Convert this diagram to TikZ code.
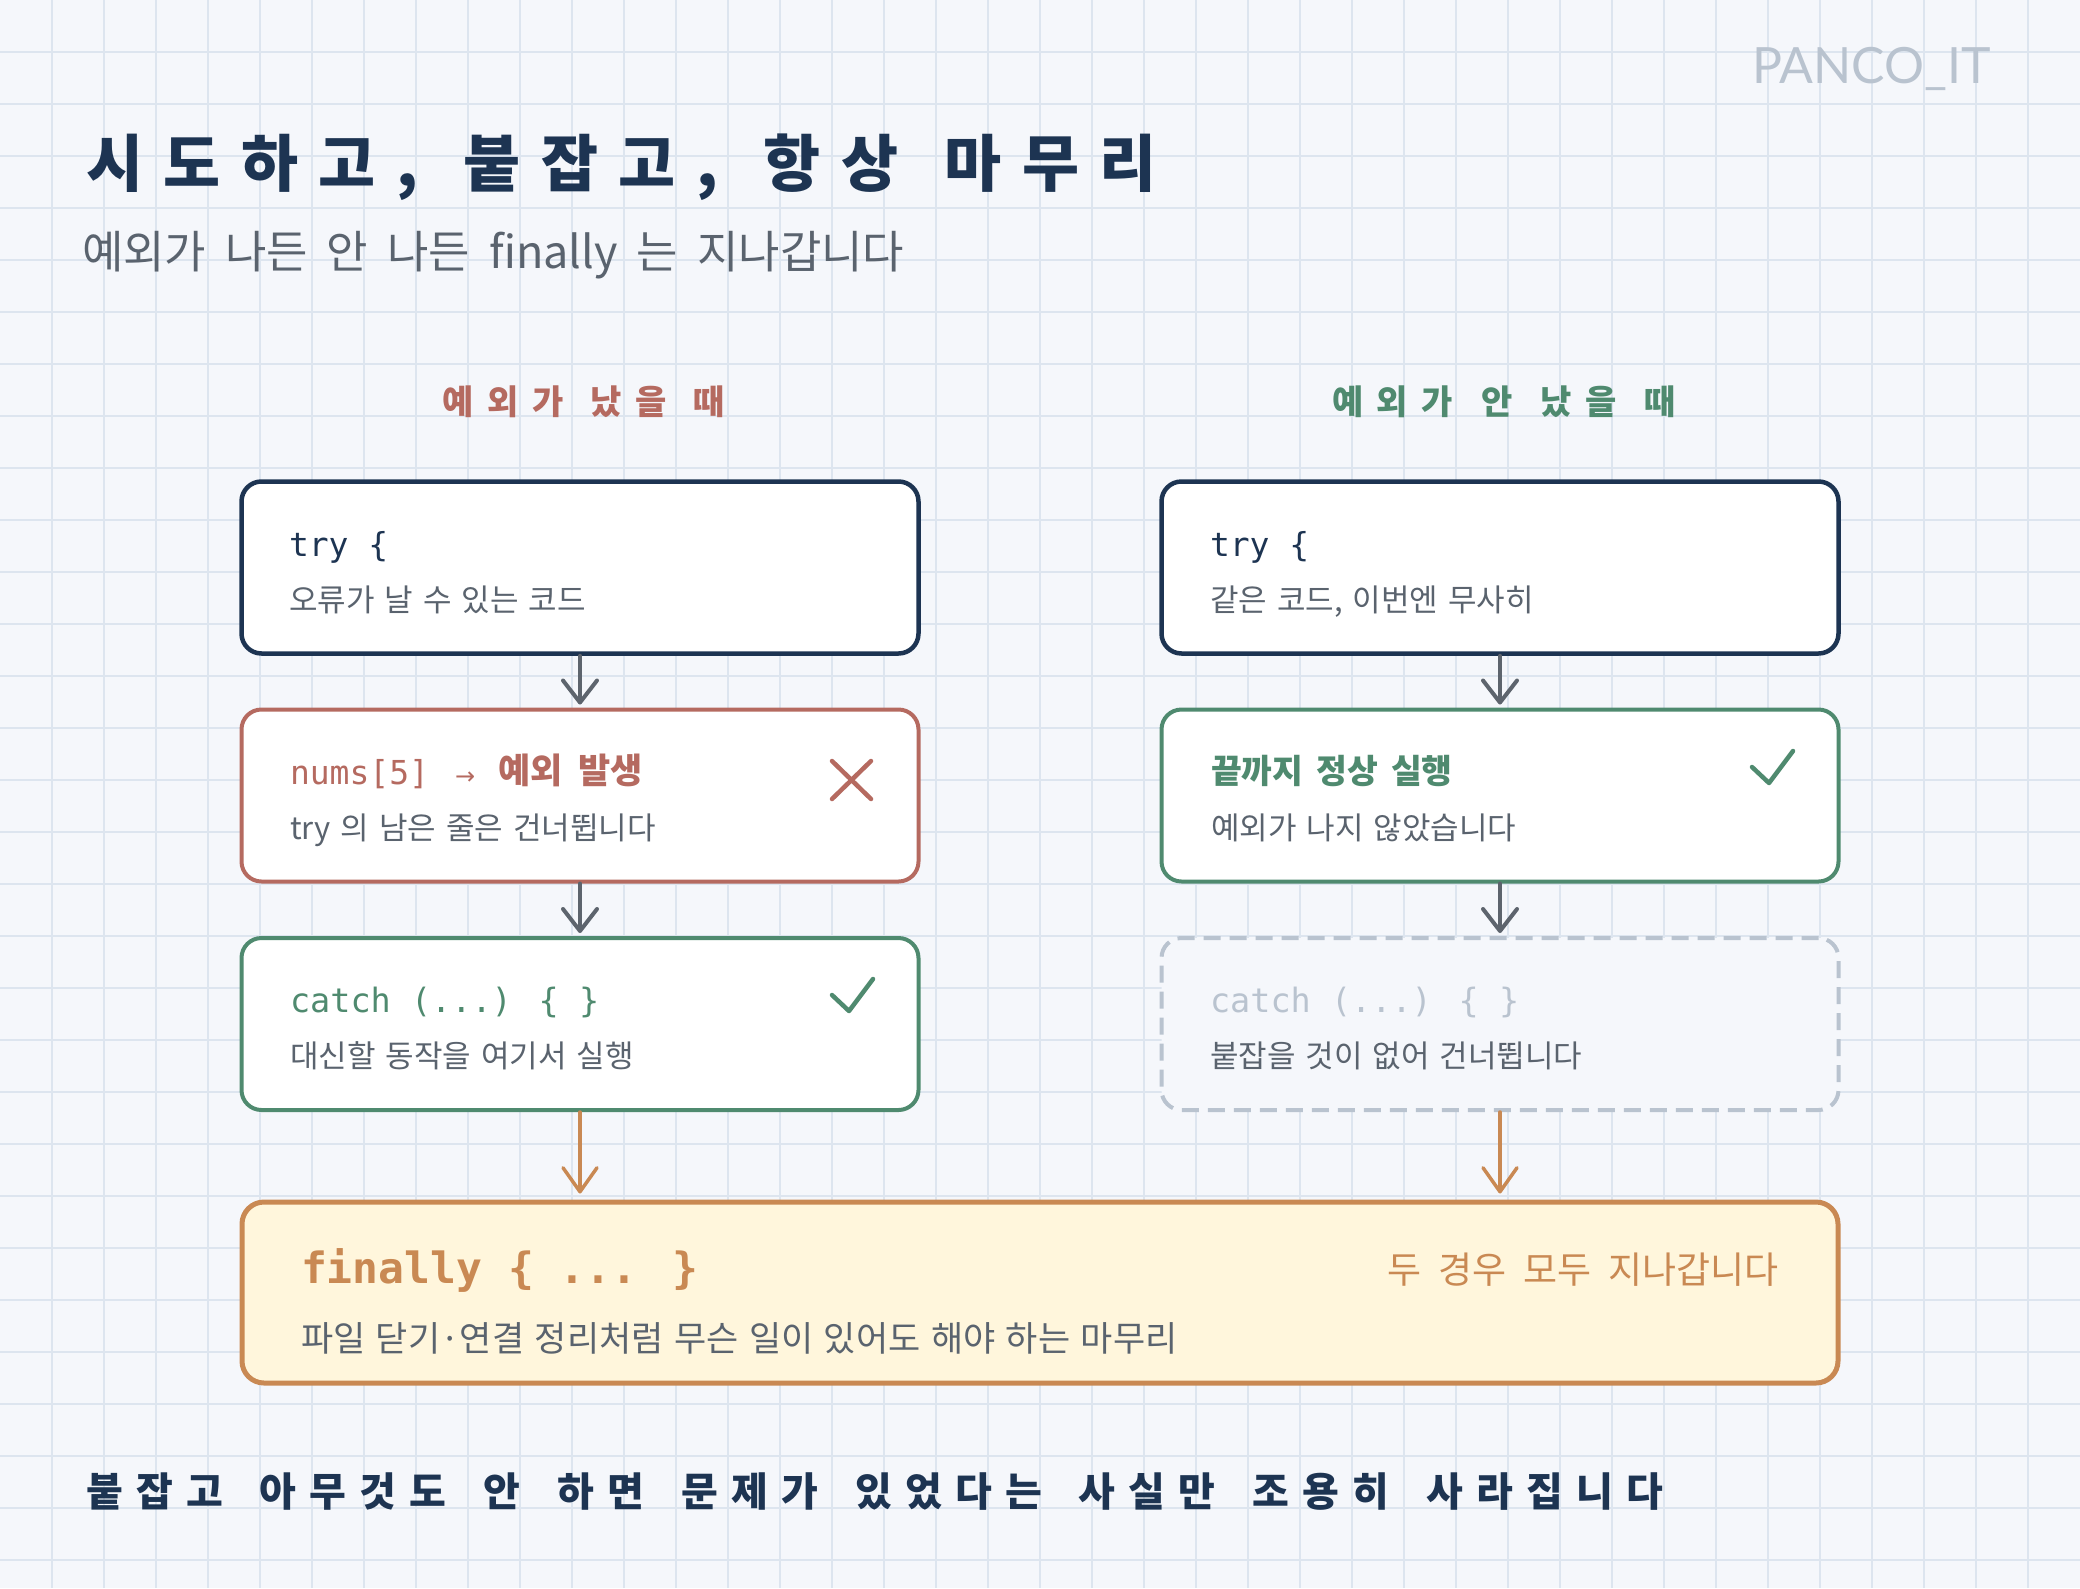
\documentclass[tikz,border=0pt]{standalone}
\usepackage{fontspec}
\usetikzlibrary{arrows.meta}
\newfontfamily\kr{Noto Sans CJK KR}
\newfontfamily\krhand{Noto Sans CJK KR}[LetterSpace=33]
\newfontfamily\krhead{Noto Sans CJK KR}[LetterSpace=40]
\newfontfamily\monof{DejaVu Sans Mono}
\newfontfamily\djv{DejaVu Sans}
\newfontfamily\latof{Lato}
\definecolor{bgc}{HTML}{F5F7FB}
\definecolor{gridc}{HTML}{DDE5EF}
\definecolor{navyc}{HTML}{1D3452}
\definecolor{redc}{HTML}{B56A60}
\definecolor{greenc}{HTML}{4F8A6F}
\definecolor{orangec}{HTML}{C98953}
\definecolor{finfill}{HTML}{FFF6DC}
\definecolor{grayt}{HTML}{5A636E}
\definecolor{lightg}{HTML}{B9C3CF}
\definecolor{arrowg}{HTML}{5D646D}
\newcommand{\fsz}[1]{\fontsize{#1}{#1}\selectfont}
\newcommand{\sps}[1]{\spaceskip=#1pt\relax}
\tikzset{
  boxst/.style={rectangle, rounded corners=20pt, line width=4pt, fill=white,
    minimum width=677pt, minimum height=172pt, inner sep=0pt},
  txt/.style={anchor=base west, inner sep=0pt, outer sep=0pt},
  garrow/.style={draw=arrowg, line width=4pt, line cap=round,
    -{Straight Barb[length=22pt,width=34pt,round]}, shorten >=3pt},
  oarrow/.style={draw=orangec, line width=3.5pt, line cap=round,
    -{Straight Barb[length=24pt,width=34pt,round]}, shorten >=6pt},
  markst/.style={line width=4.5pt, line cap=round, line join=round}
}
\begin{document}
\begin{tikzpicture}[x=1pt,y=-1pt]
\useasboundingbox (0,0) rectangle (2080,1588);
\fill[bgc] (0,0) rectangle (2080,1588);
\foreach \i in {1,...,39} \draw[gridc, line width=1.3pt] (\i*52,0) -- (\i*52,1588);
\foreach \j in {1,...,30} \draw[gridc, line width=1.3pt] (0,\j*52) -- (2080,\j*52);

% header
\node[txt, text=lightg] (brand) at (1752,83) {\latof\fsz{50}PANCO\_IT};
\node[txt, text=navyc] (title) at (86,186) {\krhand\bfseries\fsz{62}\sps{46}시도하고, 붙잡고, 항상 마무리};
\node[txt, text=grayt] (subtitle) at (82,268) {\kr\fsz{45}\sps{19}예외가 나든 안 나든 finally 는 지나갑니다};

% column heads
\node[anchor=base, inner sep=0pt, text=redc] (headL) at (584,414) {\krhead\bfseries\fsz{34}\sps{27}예외가 났을 때};
\node[anchor=base, inner sep=0pt, text=greenc] (headR) at (1504,414) {\krhead\bfseries\fsz{34}\sps{28}예외가 안 났을 때};

% left column boxes
\node[boxst, draw=navyc, line width=4.5pt] (t1) at (580,567.5) {};
\node[boxst, draw=redc] (e1) at (580,795.5) {};
\node[boxst, draw=greenc] (c1) at (580,1024) {};
% right column boxes
\node[boxst, draw=navyc, line width=4.5pt] (t2) at (1500,567.5) {};
\node[boxst, draw=greenc] (e2) at (1500,795.5) {};
\node[boxst, draw=lightg, fill=bgc, dash pattern=on 17pt off 9pt] (c2) at (1500,1024) {};
% finally
\node[rectangle, rounded corners=22pt, line width=5pt, draw=orangec, fill=finfill,
  minimum width=1596pt, minimum height=181pt, inner sep=0pt] (fin) at (1040,1292.5) {};

% texts left
\node[txt, text=navyc] (t1a) at (289,556) {\monof\fsz{33}try \{};
\node[txt, text=grayt] (t1b) at (289,611) {\kr\fsz{31}\sps{10}오류가 날 수 있는 코드};
\node[txt, text=redc] (e1a) at (290,784) {\monof\fsz{33}nums[5]};
\node[txt, text=redc] (e1b) at (455,784) {\djv\fsz{24}→};
\node[txt, text=redc] (e1c) at (498,783) {\kr\bfseries\fsz{35}\sps{16}예외 발생};
\node[txt, text=grayt] (e1d) at (290,839) {\kr\fsz{31}\sps{10}try 의 남은 줄은 건너뜁니다};
\node[txt, text=greenc] (c1a) at (290,1012) {\monof\fsz{33.5}catch (...) \{ \}};
\node[txt, text=grayt] (c1b) at (290,1067) {\kr\fsz{31}\sps{10}대신할 동작을 여기서 실행};
% texts right
\node[txt, text=navyc] (t2a) at (1210,556) {\monof\fsz{33}try \{};
\node[txt, text=grayt] (t2b) at (1210,611) {\kr\fsz{31}\sps{10}같은 코드, 이번엔 무사히};
\node[txt, text=greenc] (e2a) at (1211,783) {\kr\bfseries\fsz{33.5}\sps{13}끝까지 정상 실행};
\node[txt, text=grayt] (e2b) at (1211,839) {\kr\fsz{31}\sps{10}예외가 나지 않았습니다};
\node[txt, text=lightg] (c2a) at (1210,1012) {\monof\fsz{33.5}catch (...) \{ \}};
\node[txt, text=grayt] (c2b) at (1210,1067) {\kr\fsz{31}\sps{10}붙잡을 것이 없어 건너뜁니다};
% finally texts
\node[txt, text=orangec] (fina) at (301,1283) {\monof\bfseries\fsz{43}finally \{ ... \}};
\node[txt, text=grayt] (finb) at (301,1351) {\kr\fsz{35}\sps{10.5}파일 닫기·연결 정리처럼 무슨 일이 있어도 해야 하는 마무리};
\node[anchor=base east, inner sep=0pt, text=orangec] (finc) at (1779,1283) {\kr\fsz{37}\sps{17}두 경우 모두 지나갑니다};

% marks
\draw[markst, redc] (832,761) -- (871,799) (832,799) -- (871,761);
\draw[markst, greenc] (832,995) -- (849,1011) -- (873,979);
\draw[markst, greenc] (1752,767) -- (1769,783) -- (1793,751);

% arrows
\draw[garrow] (t1.south) -- (e1.north);
\draw[garrow] (e1.south) -- (c1.north);
\draw[garrow] (t2.south) -- (e2.north);
\draw[garrow] (e2.south) -- (c2.north);
\draw[oarrow] (c1.south) -- (c1.south |- fin.north);
\draw[oarrow] (c2.south) -- (c2.south |- fin.north);

% bottom note
\node[txt, text=navyc] (note) at (86,1506) {\krhand\bfseries\fsz{40}\sps{37}붙잡고 아무것도 안 하면 문제가 있었다는 사실만 조용히 사라집니다};
\end{tikzpicture}
\end{document}
